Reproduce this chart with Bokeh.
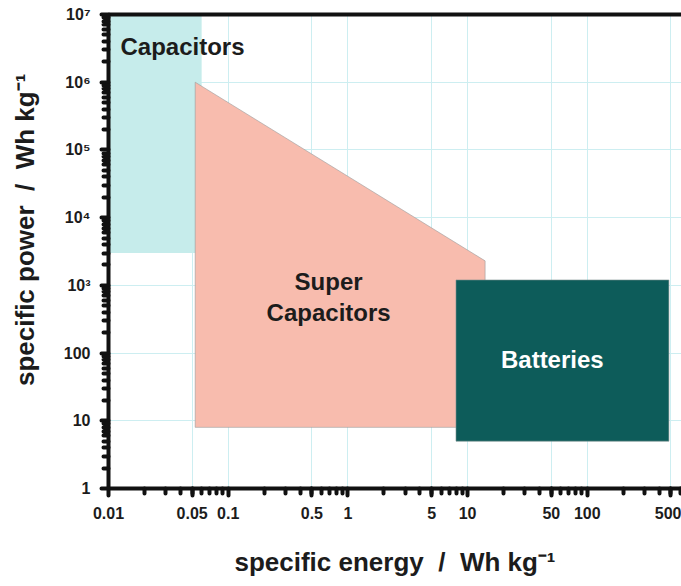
from bokeh.plotting import figure
from bokeh.models import Range1d, FixedTicker, LogAxis, Label
from bokeh.embed import file_html
from bokeh.resources import INLINE

# Ragone regions: specific energy (Wh/kg) against specific power
capacitors_energy = [0.01, 0.06]
capacitors_power = [3000, 1e7]
supercap_energy = [0.053, 14, 14, 0.053]
supercap_power = [1e6, 2300, 8, 8]
batteries_energy = [8, 480]
batteries_power = [5, 1200]

x_tick_values = [0.01, 0.05, 0.1, 0.5, 1, 5, 10, 50, 100, 500]
x_tick_labels = ["0.01", "0.05", "0.1", "0.5", "1", "5", "10", "50", "100", "500"]
y_tick_values = [1, 10, 100, 1e3, 1e4, 1e5, 1e6, 1e7]
y_tick_labels = ["1", "10", "100", "10\u00b3", "10\u2074", "10\u2075", "10\u2076", "10\u2077"]

FONT = "Liberation Sans"
INK = "#1c1c1c"
SP = "\u00a0"

p = figure(width=681, height=586, x_axis_type="log", y_axis_type="log",
           x_range=Range1d(0.01, 612), y_range=Range1d(1, 1e7),
           output_backend="svg", toolbar_location=None,
           min_border_left=108, min_border_right=0,
           min_border_top=14, min_border_bottom=98)
p.outline_line_color = None
p.background_fill_color = "white"
p.border_fill_color = "white"

# regions
p.quad(left=capacitors_energy[0], right=capacitors_energy[1],
       bottom=capacitors_power[0], top=capacitors_power[1],
       fill_color="#c6eceb", line_color=None)
p.patch(supercap_energy, supercap_power, fill_color="#f8bcae",
        line_color="#9a9a9a", line_width=0.6)
p.quad(left=batteries_energy[0], right=batteries_energy[1],
       bottom=batteries_power[0], top=batteries_power[1],
       fill_color="#0d5c5a", line_color="#7a8f8e", line_width=0.6)

# ticks: decades long, intermediate multiples short
x_decades = [10.0 ** k for k in range(-2, 3)]
y_decades = [10.0 ** k for k in range(0, 8)]
x_minor = [m * d for d in x_decades for m in range(2, 10)]
y_minor = [m * d for d in y_decades[:-1] for m in range(2, 10)]
p.xaxis.ticker = FixedTicker(ticks=x_tick_values, minor_ticks=x_minor)
p.yaxis.ticker = FixedTicker(ticks=y_tick_values, minor_ticks=y_minor)
p.xaxis.major_label_overrides = dict(zip(x_tick_values, x_tick_labels))
p.yaxis.major_label_overrides = dict(zip(y_tick_values, y_tick_labels))

for ax in (p.xaxis[0], p.yaxis[0]):
    ax.axis_line_width = 4
    ax.axis_line_color = "#111111"
    ax.major_tick_line_width = 4
    ax.minor_tick_line_width = 4
    ax.major_tick_line_color = "#111111"
    ax.minor_tick_line_color = "#111111"
    ax.major_tick_line_cap = "round"
    ax.minor_tick_line_cap = "round"
    ax.major_tick_in = 0
    ax.minor_tick_in = 0
    ax.major_tick_out = 7
    ax.minor_tick_out = 5
    ax.major_label_text_font = FONT
    ax.major_label_text_font_style = "bold"
    ax.major_label_text_font_size = "16px"
    ax.major_label_text_color = INK
    ax.major_label_standoff = 11
    ax.axis_label_text_font = FONT
    ax.axis_label_text_font_style = "bold"
    ax.axis_label_text_font_size = "26px"
    ax.axis_label_text_color = INK

p.xaxis.axis_label = f"specific energy{SP}{SP}/{SP}{SP}Wh kg\u207b\u00b9"
# leading spaces lift the rotated title a little above the frame centre
p.yaxis.axis_label = f"{SP * 6}specific power{SP}{SP}/{SP}{SP}Wh kg\u207b\u00b9"
p.xaxis.axis_label_standoff = 25
p.yaxis.axis_label_standoff = 21

# thick top border
top = LogAxis(ticker=FixedTicker(ticks=[]), axis_line_width=4,
              axis_line_color="#111111", major_tick_line_color=None,
              minor_tick_line_color=None, major_label_text_font_size="0px")
p.add_layout(top, "above")

# grid
p.xgrid.ticker = FixedTicker(ticks=x_tick_values)
p.ygrid.ticker = FixedTicker(ticks=y_tick_values)
p.grid.grid_line_color = "#cdeef1"
p.grid.grid_line_width = 1

# region labels
p.add_layout(Label(x=0.0126, y=3.4e6, text="Capacitors", text_font=FONT,
                   text_font_style="bold", text_font_size="24px",
                   text_color=INK, text_baseline="middle"))
p.add_layout(Label(x=0.69, y=665, text="Super\nCapacitors", text_font=FONT,
                   text_font_style="bold", text_font_size="24px",
                   text_color=INK, text_align="center",
                   text_baseline="middle", text_line_height=1.15))
p.add_layout(Label(x=51, y=80, text="Batteries", text_font=FONT,
                   text_font_style="bold", text_font_size="24px",
                   text_color="white", text_align="center",
                   text_baseline="middle"))

open("out.html", "w").write(file_html(p, INLINE))
